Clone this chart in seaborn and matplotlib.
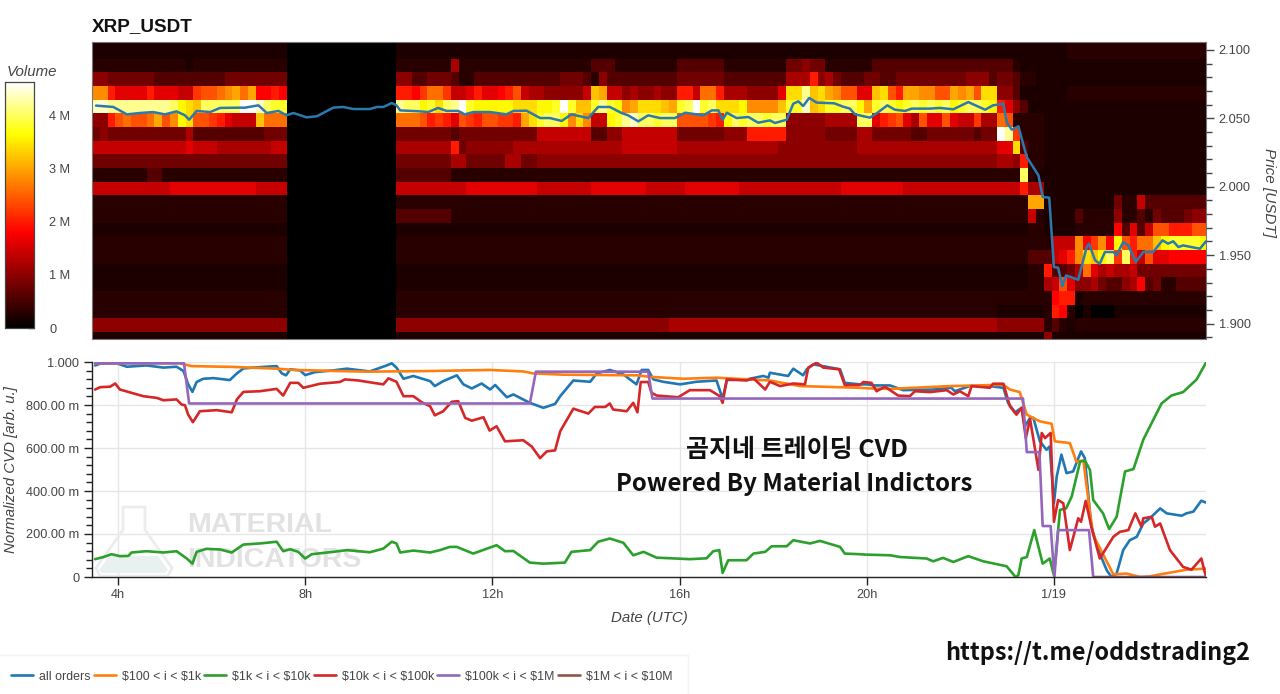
import numpy as np
import pandas as pd
import seaborn as sns
import matplotlib
matplotlib.use("Agg")
import matplotlib.pyplot as plt
from matplotlib.colors import LinearSegmentedColormap
from matplotlib.patches import Polygon
from matplotlib.ticker import MultipleLocator

# ---------- DATA ----------
SYMBOL = "XRP_USDT"
SERIES_NAMES = ["all orders", "$100 < i < $1k", "$1k < i < $10k", "$10k < i < $100k", "$100k < i < $1M", "$1M < i < $10M"]
PRICE_TICKS = [1.900, 1.950, 2.000, 2.050, 2.100]
VOLUME_TICKS = [0, 1, 2, 3, 4]
VOLUME_LABELS = ["0", "1 M", "2 M", "3 M", "4 M"]
CVD_TICKS = [0, 0.2, 0.4, 0.6, 0.8, 1.0]
CVD_LABELS = ["0", "200.00 m", "400.00 m", "600.00 m", "800.00 m", "1.000"]
HOUR_TICKS = [4, 8, 12, 16, 20, 24]
HOUR_LABELS = ["4h", "8h", "12h", "16h", "20h", "1/19"]

# Heatmap volume: one character per 10-minute column, base-36 digit in units of 0.2 M
# (digit 2 stands for a faint 0.3 M). Strings shorter than their block repeat their last character.
HEAT_LEFT = [
    "1", "1", "2222222222221222222222222", "5544444433333333344444444",
    "eea8888a88877bccdefdf99a9", "mmllllllllkihgkkkkknnmkjj", "55acdccdfceihccba8777gddd",
    "4544444444446333333333444", "7777777777778777666666677", "4", "2222222332222222222222222",
    "7777777777888888888887777", "2", "2", "1", "2", "2", "1", "1", "2", "2", "5", "1",
]
HEAT_MAIN = [
    "1", "1",
    "2222222622222222222222222333222222223333332222222244544222222" + "3",
    "553344432233333333333444325333333333444444333333336 6a56433344".replace(" ", "6") + "3344444444455533",
    "aa9bddb778a889ac76655555" + "7gf775655655aa7dda66655558hhlghfecc88ghcaffeeccfefchh",
    "lkkijhklnjiiiiihhhiijnjggjljiefhhhgfjknjkhhhieeeegjjmghjjkkifjkjijkjkjkijkkji",
    "dddcaba8cbaccbbafhjkkiehe77ijlmkkjkkccccbaikjkkjkk555556666kk8abc86c88c877b66",
    "4444444344444444447777777335577777774444445 55aaaaa555554444664444433444444344".replace(" ", ""),
    "6666666a4555555666666666666667777777666666666666655555555556" + "6",
    "4444444664444466445555555",
    "33333332",
    "7777777778888888887777777888888877777888888877777777777778888888877777777777777",
    "2", "33333332", "1", "2", "2", "1", "1",
    "2", "2",
    "55555555555555555555555555555555555" + "6", "1",
]
HEAT_TAIL = [
    "1111111112", "1111111112", "332111111", "4432211111", "5531111112", "a8531", "dc22221",
    "nlb2221", "88h3221", "665a221", "222k21", "777a661",
    "2222ff111111111" + "4" + "22" + "7" + "3",
    "2222" + "7" + "2" + "1111" + "3" + "2222" + "5" + "22" + "3" + "2" + "4" + "333" + "4" + "55",
    "1111" + "22" + "1111" + "2" + "2222" + "9" + "3" + "8" + "3" + "7" + "cc" + "aaa" + "cc",
    "2222" + "222" + "777" + "e9be9icaddgijjjji",
    "2222" + "333" + "78a" + "ehgikbka7c889",
    "1111" + "22" + "a" + "33" + "46d86766" + "7" + "444",
    "1111" + "22" + "67c855" + "6" + "4" + "33" + "569" + "34" + "223",
    "2222222" + "9aa12", "111111" + "2a9201" + "0001", "555555" + "23212", "111111" + "51",
]

PRICE_T = [3.53,3.9,4.19,4.47,4.75,5.0,5.25,5.43,5.52,5.68,5.97,6.18,6.61,6.71,7.0,7.18,7.43,7.6,7.75,8.03,8.25,8.6,8.81,9.03,9.38,9.53,9.67,9.85,9.95,
           10.03,10.45,10.63,10.84,11.02,11.27,11.41,11.59,11.95,12.3,12.45,12.73,13.02,13.23,13.48,13.69,14.05,14.26,14.51,14.76,14.9,15.12,15.33,15.58,15.9,16.12,16.51,16.69,16.83,16.92,17.01,17.22,17.47,17.68,17.93,18.04,18.29,18.43,18.54,18.64,18.77,18.93,19.3,19.5,
           19.64,19.75,20.07,20.25,20.44,20.6,20.82,20.96,21.35,21.56,21.85,22.17,22.53,22.7,22.92,22.99,23.1,23.24,23.42,23.67,23.76,23.9,24.0,24.09,24.18,24.26,24.52,24.7,24.75,24.88,24.98,25.09,25.27,25.34,25.48,25.59,25.75,25.91,26.12,26.32,26.44,26.55,26.66,26.76,27.12,27.25]
PRICE_V = [2.0593,2.0583,2.0529,2.0539,2.0546,2.0529,2.0551,2.0522,2.0490,2.0554,2.0546,2.0576,2.0578,2.0578,2.0595,2.0539,2.0554,2.0522,2.0539,2.0507,2.0515,2.0578,2.0583,2.0568,2.0568,2.0583,2.0583,2.0612,2.0595,
           2.0558,2.0551,2.0546,2.0576,2.0554,2.0554,2.0529,2.0546,2.0546,2.0529,2.0554,2.0556,2.0502,2.0502,2.0481,2.0529,2.0502,2.0583,2.0583,2.0539,2.0522,2.0478,2.0522,2.0502,2.0502,2.0541,2.0522,2.0558,2.0558,2.049,2.0541,2.0502,2.051,2.0468,2.0485,2.0466,2.049,2.0607,2.0624,2.059,2.0649,2.0615,2.0610,2.0585,
           2.0571,2.0529,2.0505,2.0546,2.0595,2.0563,2.0554,2.0571,2.0571,2.0576,2.0566,2.0619,2.0563,2.0595,2.0607,2.0473,2.0417,2.0442,2.0217,2.0083,1.9925,1.992,1.9413,1.9408,1.9272,1.9352,1.932,1.9559,1.9584,1.9462,1.9437,1.9523,1.9523,1.9498,1.9596,1.9571,1.945,1.9523,1.9523,1.9608,1.9584,1.9601,1.9559,1.9571,1.9547,1.9601]

BLUE_T = [3.51,3.62,3.97,4.19,4.61,4.97,5.25,5.40,5.50,5.59,5.68,5.82,6.04,6.39,6.54,6.68,6.89,7.39,7.50,7.59,7.68,7.89,8.0,8.21,8.6,8.89,9.38,9.74,9.85,9.95,10.1,10.31,10.67,
          10.77,10.95,11.24,11.38,11.56,11.77,11.95,12.06,12.31,12.45,12.8,13.09,13.34,13.45,13.73,14.09,14.23,14.51,14.8,15.08,15.19,15.33,15.44,15.65,16.01,16.36,16.79,16.92,17.01,17.43,17.79,17.9,17.93,18.32,18.43,18.64,18.72,18.86,19.43,19.53,19.85,
          20.0,20.17,20.5,20.78,21.42,21.81,21.88,22.2,22.63,22.92,23.02,23.17,23.31,23.38,23.49,23.56,23.7,23.84,23.91,24.0,24.06,24.16,24.27,24.41,24.58,24.66,24.8,24.95,25.13,25.23,25.34,25.48,25.62,25.77,25.91,26.05,26.27,26.41,26.73,26.83,26.98,27.15,27.25]
BLUE_V = [.984,.992,.994,.978,.984,.974,.978,.958,.896,.861,.907,.922,.925,.916,.947,.970,.974,.981,.947,.938,.966,.961,.939,.953,.961,.969,.956,.984,.994,.974,.922,.935,.911,
          .888,.911,.938,.896,.877,.900,.872,.893,.836,.849,.810,.787,.805,.841,.914,.908,.947,.963,.942,.896,.963,.963,.919,.908,.896,.908,.914,.829,.916,.919,.935,.927,.950,.935,.969,.938,.966,.989,.966,.903,.896,
          .896,.891,.891,.869,.872,.880,.864,.888,.888,.880,.810,.766,.787,.701,.740,.740,.631,.592,.607,.343,.467,.569,.483,.491,.584,.553,.234,.125,.031,0,.016,.125,.171,.187,.249,.273,.319,.296,.285,.296,.304,.355,.346]

ORANGE_T = [3.51,5.32,5.57,6.46,7.39,7.75,9.31,10.67,11.95,12.66,12.87,13.52,15.08,15.37,16.08,16.79,17.93,18.57,19.85,20.07,20.5,21.78,22.92,23.06,23.27,23.42,23.7,23.95,24.02,24.34,24.48,24.63,24.77,24.84,25.27,25.55,25.84,26.05,26.27,26.83,27.25]
ORANGE_V = [.994,.994,.981,.977,.969,.963,.955,.958,.963,.956,.947,.941,.938,.931,.922,.927,.914,.888,.880,.877,.875,.888,.894,.872,.860,.755,.724,.713,.631,.623,.537,.541,.3,.195,.012,.016,0,.003,.012,.034,.039]

GREEN_T = [3.51,3.69,3.86,4.04,4.22,4.29,4.61,4.97,5.25,5.47,5.59,5.68,5.89,6.18,6.43,6.68,7.03,7.39,7.53,7.68,7.85,8.0,8.14,8.6,8.89,9.38,9.67,9.85,9.95,10.03,10.31,10.67,
           10.88,11.09,11.24,11.59,12.09,12.27,12.45,12.8,13.09,13.55,13.69,14.09,14.26,14.51,14.8,15.01,15.23,15.51,16.22,16.58,16.72,16.85,16.92,17.04,17.43,17.58,17.83,17.97,18.29,18.43,18.79,19.0,19.43,19.53,19.85,
           20.0,20.5,20.71,21.28,21.42,21.63,21.85,22.17,22.49,22.99,23.18,23.24,23.31,23.42,23.58,23.76,23.91,24.0,24.13,24.26,24.38,24.56,24.66,24.77,24.84,25.05,25.18,25.34,25.52,25.7,25.91,26.3,26.51,26.76,27.05,27.25]
GREEN_V = [.083,.093,.106,.097,.098,.114,.120,.114,.12,.086,.062,.117,.131,.128,.114,.151,.156,.164,.12,.129,.117,.086,.106,.117,.125,.115,.132,.164,.156,.114,.123,.114,
           .125,.14,.14,.109,.148,.12,.121,.067,.062,.067,.117,.125,.164,.179,.159,.101,.117,.09,.083,.087,.12,.125,.019,.078,.078,.109,.117,.143,.143,.171,.156,.168,.14,.109,.106,
           .104,.101,.093,.086,.073,.089,.07,.097,.073,.05,0,.008,.086,.093,.218,.062,.086,.008,.312,.319,.374,.537,.542,.498,.358,.296,.223,.28,.491,.502,.639,.807,.844,.86,.919,.997]

RED_T = [3.51,3.62,3.83,3.94,4.04,4.33,4.54,4.83,4.97,5.25,5.36,5.43,5.5,5.6,5.75,6.11,6.43,6.54,6.68,7.03,7.39,7.53,7.68,7.85,7.96,8.32,8.74,8.85,9.14,9.31,9.67,9.78,9.95,10.1,10.31,10.49,10.67,
         10.77,10.95,11.13,11.27,11.42,11.56,11.81,11.94,12.09,12.27,12.66,12.84,13.02,13.16,13.34,13.45,13.73,14.05,14.19,14.41,14.51,14.58,14.87,15.01,15.1,15.17,15.33,15.4,15.51,15.97,16.22,16.65,16.86,16.92,17.01,17.43,17.58,17.83,17.93,18.15,18.43,18.68,18.75,18.93,19.07,19.41,19.53,19.85,
         19.93,20.1,20.21,20.39,20.67,20.92,21.03,21.35,21.71,21.85,21.99,22.17,22.24,22.63,22.7,22.92,23.06,23.2,23.31,23.4,23.49,23.67,23.74,23.81,23.93,24.0,24.09,24.2,24.34,24.52,24.58,24.68,24.8,24.98,25.27,25.41,25.59,25.74,25.87,25.91,26.09,26.16,26.27,26.48,26.76,26.94,27.15,27.25]
RED_V = [.872,.883,.885,.9,.872,.854,.841,.833,.822,.826,.802,.799,.755,.72,.771,.776,.766,.826,.861,.864,.875,.844,.903,.903,.88,.899,.907,.919,.914,.908,.896,.924,.908,.841,.841,.813,.794,
         .752,.771,.815,.818,.74,.727,.743,.681,.701,.631,.636,.607,.553,.584,.589,.678,.783,.76,.791,.791,.807,.779,.771,.81,.766,.907,.907,.857,.844,.836,.869,.869,.841,.81,.919,.914,.924,.872,.908,.888,.9,.896,.974,.997,.974,.966,.893,.893,
         .907,.903,.864,.885,.844,.841,.864,.86,.869,.849,.864,.841,.888,.88,.899,.899,.794,.755,.787,.646,.735,.498,.67,.646,.67,.257,.358,.343,.125,.273,.257,.354,.234,.086,.187,.21,.218,.296,.234,.273,.28,.234,.249,.125,.047,.034,.086,0]

PURPLE_T = [3.51,5.41,5.52,12.8,12.93,15.33,15.42,22.99,23.34,23.42,23.69,23.76,23.93,24.01,24.09,24.75,24.84,27.25]
PURPLE_V = [.994,.994,.807,.807,.955,.955,.83,.83,.83,.581,.581,.237,.237,0,.218,.218,0,0]

BROWN_T = [24.84,27.25]
BROWN_V = [0,0]

# ---------- STYLE ----------
W, H = 1280, 694
sns.set_theme(style="white")
plt.rcParams["font.family"] = ["Liberation Sans", "DejaVu Sans"]
TXT = "#444444"
COLORS = ["#1f77b4", "#ff7f0e", "#2ca02c", "#d62728", "#9467bd", "#8c564b"]


def frame(left, top, right, bottom):
    return [left / W, 1 - bottom / H, (right - left) / W, (bottom - top) / H]


def fx(x):
    return x / W


def fy(y):
    return 1 - y / H


def pad(block, length):
    return (block + block[-1] * length)[:length]


def level(ch):
    d = int(ch, 36)
    return 0.3 if d == 2 else d * 0.2


fig = plt.figure(figsize=(W / 100, H / 100), dpi=100, facecolor="white")

# ---------- heatmap ----------
cmap = LinearSegmentedColormap.from_list(
    "vol", [(0, "#000000"), (0.39, "#ff0000"), (0.79, "#ffff00"), (1, "#ffffff")])
rows = []
for a, b, c in zip(HEAT_LEFT, HEAT_MAIN, HEAT_TAIL):
    s = pad(a, 25) + "0" * 14 + pad(b, 77) + pad(c, 27)
    rows.append([level(ch) for ch in s])
grid = pd.DataFrame(rows)

ax_h = fig.add_axes(frame(92, 42, 1206, 339))
cax = fig.add_axes(frame(5, 82, 34, 328))
sns.heatmap(grid, ax=ax_h, cbar_ax=cax, cmap=cmap, vmin=0, vmax=4.62,
            xticklabels=False, yticklabels=False)
ax_h.set_xlim(0, 142.8)
ax_h.set_ylim(22.5, 0.79)
ax_h.set_xlabel("")
ax_h.set_ylabel("")
ax_h.tick_params(left=False, bottom=False)
for s in ax_h.spines.values():
    s.set_visible(True)
    s.set_color("#777777")
    s.set_linewidth(0.8)

cax.set_yticks(VOLUME_TICKS)
cax.set_yticklabels(VOLUME_LABELS)
cax.tick_params(axis="y", which="major", direction="in", length=4, width=1, color="#333333",
                right=True, left=False, labelsize=9.2, labelcolor=TXT, pad=11)
cax.yaxis.set_ticks_position("right")
for s in cax.spines.values():
    s.set_visible(True)
    s.set_color("#444444")
    s.set_linewidth(0.8)
fig.text(fx(7), fy(71.5), "Volume", style="italic", fontsize=10.8, color=TXT, va="center", ha="left")
fig.text(fx(92), fy(27), SYMBOL, fontsize=13.6, fontweight="bold", color="#111111", va="center", ha="left")

# ---------- price overlay ----------
ax_p = fig.add_axes(frame(92, 42, 1206, 339), facecolor="none")
sns.lineplot(x=PRICE_T, y=PRICE_V, ax=ax_p, color="#2a7ab0", lw=1.8, estimator=None, sort=False, errorbar=None)
ax_p.set_xlim(3.444, 27.25)
ax_p.set_ylim(1.8887, 2.1058)
ax_p.set_xticks([])
ax_p.yaxis.tick_right()
ax_p.yaxis.set_label_position("right")
ax_p.set_yticks(PRICE_TICKS)
ax_p.set_yticklabels([f"{v:.3f}" for v in PRICE_TICKS])
ax_p.yaxis.set_minor_locator(MultipleLocator(0.01))
ax_p.tick_params(axis="y", which="major", direction="out", length=6, width=1, color="#444444",
                 right=True, left=False, labelsize=9.2, labelcolor=TXT, pad=3)
ax_p.tick_params(axis="y", which="minor", direction="out", length=4, width=1, color="#444444", right=True, left=False)
for s in ax_p.spines.values():
    s.set_visible(False)
fig.text(fx(1269), fy(192), "Price [USDT]", rotation=270, style="italic", fontsize=11, color=TXT, va="center", ha="center")

# ---------- CVD ----------
ax = fig.add_axes(frame(92, 362, 1206, 577), facecolor="white")
ax.set_axisbelow(True)
ax.grid(True, color="#e6e6e6", lw=1)
line_data = [(BLUE_T, BLUE_V), (ORANGE_T, ORANGE_V), (GREEN_T, GREEN_V), (RED_T, RED_V), (PURPLE_T, PURPLE_V), (BROWN_T, BROWN_V)]
for (t, v), name, col in zip(line_data, SERIES_NAMES, COLORS):
    sns.lineplot(x=t, y=v, ax=ax, color=col, lw=1.9, estimator=None, sort=False, errorbar=None,
                 label=name.replace("$", r"\$"), legend=False, zorder=2)
ax.set_xlim(3.444, 27.25)
ax.set_ylim(0, 1.0)
ax.set_xticks(HOUR_TICKS)
ax.set_xticklabels(HOUR_LABELS)
ax.set_yticks(CVD_TICKS)
ax.set_yticklabels(CVD_LABELS)
ax.yaxis.set_minor_locator(MultipleLocator(0.04))
ax.tick_params(axis="both", which="major", direction="out", length=6, width=1, color="#222222",
               left=True, bottom=True, labelsize=9.2, labelcolor=TXT, pad=3)
ax.tick_params(axis="y", which="minor", direction="out", length=4, width=1, color="#222222", left=True)
sns.despine(ax=ax, top=True, right=True)
ax.spines["left"].set_color("#222222")
ax.spines["bottom"].set_color("#222222")
ax.spines["left"].set_linewidth(1)
ax.spines["bottom"].set_linewidth(1)
fig.text(fx(649), fy(618), "Date (UTC)", style="italic", fontsize=10.8, color=TXT, va="center", ha="center")
fig.text(fx(11), fy(470), "Normalized CVD [arb. u.]", rotation=90, style="italic", fontsize=10.8, color=TXT, va="center", ha="center")

# ---------- watermark ----------
WM = "#e2e2e2"
ax.text(fx(187), fy(525), "MATERIAL", transform=fig.transFigure, fontsize=20.5, fontweight="bold", color=WM, va="center", ha="left", zorder=1)
ax.text(fx(187), fy(560), "INDICATORS", transform=fig.transFigure, fontsize=20.5, fontweight="bold", color=WM, va="center", ha="left", zorder=1)
flask = [(123, 507), (145, 507), (145, 530), (172, 568), (168, 576), (100, 576), (96, 568), (123, 530)]
liquid = [(109, 556), (158, 556), (168, 570), (165, 573), (102, 573), (99, 570)]
ax.add_patch(Polygon([(fx(x), fy(y)) for x, y in flask], closed=True, transform=fig.transFigure, fill=False, ec="#ececec", lw=2, zorder=1, clip_on=False))
ax.add_patch(Polygon([(fx(x), fy(y)) for x, y in liquid], closed=True, transform=fig.transFigure, fc="#e8f0f0", ec="none", zorder=1, clip_on=False))

# ---------- overlaid captions ----------
KR = ["Noto Sans CJK KR", "DejaVu Sans"]
fig.text(fx(797), fy(450), "곰지네 트레이딩 CVD", family=KR, fontsize=18, fontweight="bold", color="#111111", va="center", ha="center")
fig.text(fx(794), fy(484), "Powered By Material Indictors", family=KR, fontsize=17.3, fontweight="bold", color="#111111", va="center", ha="center")
fig.text(fx(1098), fy(653), "https://t.me/oddstrading2", family=KR, fontsize=16.8, fontweight="bold", color="#111111", va="center", ha="center")

# ---------- legend ----------
handles, labels = ax.get_legend_handles_labels()
leg = fig.legend(handles, labels, ncol=6, loc="lower left", bbox_to_anchor=(-0.0085, -0.015),
                 fontsize=8.95, frameon=True, fancybox=False, edgecolor="#f0f0f0", facecolor="white",
                 handlelength=1.8, handletextpad=0.45, columnspacing=0.26, borderpad=1.25, labelcolor=TXT)
leg.get_frame().set_linewidth(1)

fig.savefig("out.png", dpi=100, facecolor="white")
